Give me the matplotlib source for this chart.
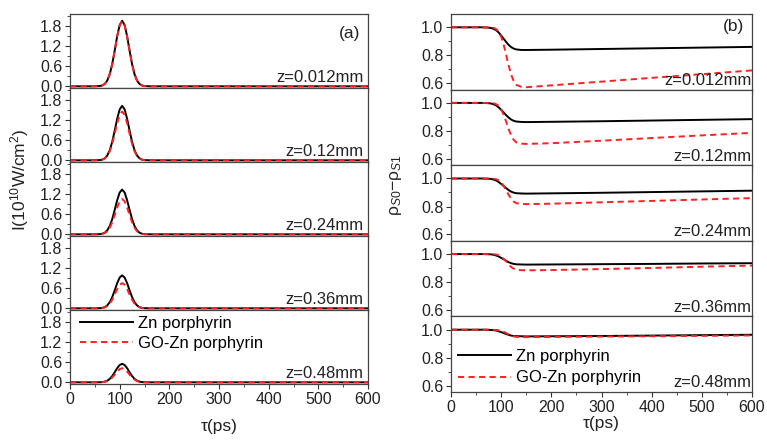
from matplotlib import pyplot as plt
from matplotlib.ticker import MultipleLocator

plt.rcParams['font.family'] = ['Liberation Sans', 'DejaVu Sans']
plt.rcParams['font.size'] = 11.5
plt.rcParams['mathtext.fontset'] = 'custom'
plt.rcParams['mathtext.rm'] = 'Liberation Sans'
plt.rcParams['mathtext.it'] = 'Liberation Sans:italic'

z_labels = ['z=0.012mm', 'z=0.12mm', 'z=0.24mm', 'z=0.36mm', 'z=0.48mm']

# (a) pulse intensity, 1e10 W/cm^2
t_pulse = [0, 40, 50, 60, 65, 70, 75, 80, 85, 90, 95, 100, 105,
           110, 115, 120, 125, 130, 135, 140, 145, 150, 160, 170, 600]

I_zn = [
    [0, 0, 0.001, 0.008, 0.025, 0.07, 0.17, 0.36, 0.66, 1.06, 1.49, 1.82, 1.95,
     1.82, 1.49, 1.06, 0.66, 0.36, 0.17, 0.07, 0.025, 0.008, 0.001, 0, 0],
    [0, 0, 0.001, 0.006, 0.021, 0.058, 0.143, 0.298, 0.549, 0.881, 1.236, 1.513, 1.62,
     1.513, 1.236, 0.881, 0.549, 0.298, 0.143, 0.058, 0.021, 0.006, 0.001, 0, 0],
    [0, 0, 0.001, 0.005, 0.017, 0.048, 0.117, 0.245, 0.451, 0.724, 1.015, 1.242, 1.33,
     1.242, 1.015, 0.724, 0.451, 0.245, 0.117, 0.048, 0.017, 0.005, 0.001, 0, 0],
    [0, 0, 0, 0.004, 0.013, 0.035, 0.086, 0.18, 0.332, 0.533, 0.748, 0.915, 0.98,
     0.915, 0.748, 0.533, 0.332, 0.18, 0.086, 0.035, 0.013, 0.004, 0, 0, 0],
    [0, 0, 0, 0.002, 0.007, 0.02, 0.048, 0.101, 0.186, 0.299, 0.42, 0.514, 0.55,
     0.514, 0.42, 0.299, 0.186, 0.101, 0.048, 0.02, 0.007, 0.002, 0, 0, 0],
]
I_go = [
    [0, 0, 0.001, 0.008, 0.025, 0.07, 0.17, 0.36, 0.66, 1.06, 1.48, 1.81, 1.94,
     1.81, 1.48, 1.06, 0.66, 0.36, 0.17, 0.07, 0.025, 0.008, 0.001, 0, 0],
    [0, 0, 0.001, 0.006, 0.019, 0.052, 0.128, 0.267, 0.492, 0.789, 1.106, 1.354, 1.45,
     1.354, 1.106, 0.789, 0.492, 0.267, 0.128, 0.052, 0.019, 0.006, 0.001, 0, 0],
    [0, 0, 0, 0.004, 0.014, 0.038, 0.092, 0.193, 0.356, 0.571, 0.801, 0.981, 1.05,
     0.981, 0.801, 0.571, 0.356, 0.193, 0.092, 0.038, 0.014, 0.004, 0, 0, 0],
    [0, 0, 0, 0.003, 0.01, 0.027, 0.066, 0.138, 0.254, 0.408, 0.572, 0.701, 0.75,
     0.701, 0.572, 0.408, 0.254, 0.138, 0.066, 0.027, 0.01, 0.003, 0, 0, 0],
    [0, 0, 0, 0.002, 0.005, 0.015, 0.037, 0.077, 0.142, 0.228, 0.32, 0.392, 0.42,
     0.392, 0.32, 0.228, 0.142, 0.077, 0.037, 0.015, 0.005, 0.002, 0, 0, 0],
]

# (b) population difference rho_S0 - rho_S1
t_rho = [0, 60, 70, 80, 85, 90, 95, 100, 105, 110, 115, 120, 125, 130,
         140, 150, 200, 300, 400, 500, 600]

rho_zn = [
    [1, 1, 0.999, 0.995, 0.989, 0.979, 0.963, 0.941, 0.918, 0.895, 0.874, 0.858, 0.848, 0.842,
     0.838, 0.838, 0.840, 0.845, 0.850, 0.855, 0.860],
    [1, 1, 0.999, 0.996, 0.990, 0.982, 0.968, 0.951, 0.931, 0.912, 0.895, 0.881, 0.872, 0.867,
     0.864, 0.863, 0.865, 0.869, 0.874, 0.879, 0.884],
    [1, 1, 0.999, 0.997, 0.992, 0.986, 0.975, 0.961, 0.946, 0.931, 0.917, 0.906, 0.899, 0.895,
     0.893, 0.892, 0.894, 0.898, 0.903, 0.908, 0.913],
    [1, 1, 1.0, 0.998, 0.995, 0.990, 0.983, 0.973, 0.963, 0.952, 0.942, 0.935, 0.930, 0.927,
     0.926, 0.925, 0.926, 0.928, 0.930, 0.933, 0.935],
    [1, 1, 1.0, 0.998, 0.997, 0.994, 0.989, 0.983, 0.976, 0.969, 0.963, 0.958, 0.955, 0.954,
     0.953, 0.952, 0.953, 0.955, 0.958, 0.961, 0.964],
]
rho_go = [
    [1, 1, 1.0, 0.998, 0.996, 0.987, 0.970, 0.932, 0.876, 0.803, 0.726, 0.662, 0.615, 0.589,
     0.575, 0.572, 0.585, 0.612, 0.639, 0.665, 0.692],
    [1, 1, 1.0, 0.999, 0.997, 0.991, 0.979, 0.953, 0.915, 0.865, 0.812, 0.768, 0.736, 0.718,
     0.709, 0.707, 0.712, 0.730, 0.749, 0.768, 0.786],
    [1, 1, 1.0, 0.999, 0.998, 0.995, 0.987, 0.971, 0.947, 0.916, 0.883, 0.855, 0.835, 0.824,
     0.818, 0.817, 0.820, 0.830, 0.840, 0.850, 0.860],
    [1, 1, 1.0, 0.999, 0.999, 0.997, 0.992, 0.981, 0.966, 0.947, 0.926, 0.908, 0.896, 0.889,
     0.885, 0.884, 0.886, 0.893, 0.901, 0.910, 0.918],
    [1, 1, 1.0, 1.0, 0.999, 0.998, 0.996, 0.992, 0.985, 0.976, 0.966, 0.958, 0.952, 0.949,
     0.947, 0.947, 0.948, 0.951, 0.953, 0.956, 0.959],
]

W, H = 767, 440
fig = plt.figure(figsize=(W / 100, H / 100), dpi=100)

txt = '#222222'
fs_tick = 11.5
fs_text = 12
dash = (0, (3.2, 2.2))


def style(ax, last):
    ax.set_xlim(0, 600)
    ax.xaxis.set_major_locator(MultipleLocator(100))
    ax.xaxis.set_minor_locator(MultipleLocator(50))
    ax.tick_params(which='both', direction='out', colors='#333333', labelcolor=txt,
                   labelsize=fs_tick, top=False, right=False, pad=2)
    ax.tick_params(which='major', length=3.5)
    ax.tick_params(which='minor', length=2)
    if not last:
        ax.tick_params(axis='x', labelbottom=False)
    for s in ax.spines.values():
        s.set_color('#444444')
        s.set_linewidth(0.9)


# left panels
top, bot = 14, 384
h = (bot - top) / 5
left_axes = []
for i in range(5):
    y0 = top + (i + 1) * h
    ax = fig.add_axes([70 / W, 1 - y0 / H, 298 / W, h / H])
    ax.plot(t_pulse, I_zn[i], color='black', lw=1.4, label='Zn porphyrin')
    ax.plot(t_pulse, I_go[i], color='#ff2020', lw=1.4, ls=dash, label='GO-Zn porphyrin')
    ax.set_ylim(-0.05, 2.15)
    ax.yaxis.set_major_locator(MultipleLocator(0.6))
    ax.yaxis.set_minor_locator(MultipleLocator(0.3))
    ax.yaxis.set_major_formatter(plt.FormatStrFormatter('%.1f'))
    style(ax, i == 4)
    ax.text(0.985, 0.04, z_labels[i], transform=ax.transAxes, ha='right', va='bottom',
            fontsize=fs_text, color=txt)
    left_axes.append(ax)

left_axes[0].text(0.975, 0.74, '(a)', transform=left_axes[0].transAxes, ha='right',
                  va='center', fontsize=12.5, color=txt)
left_axes[4].legend(loc='upper left', bbox_to_anchor=(0.0, 1.06), frameon=False,
                    handlelength=3.2, handletextpad=0.3, labelspacing=0.3,
                    borderaxespad=0.2, fontsize=fs_text)
left_axes[4].set_xlabel('τ(ps)', fontsize=12.5, color=txt, labelpad=9)
fig.text(20 / W, 1 - 180 / H, r'I(10$^{10}$W/cm$^{2}$)', rotation=90, ha='center',
         va='center', fontsize=12.5, color=txt)

# right panels
top, bot = 14, 392
h = (bot - top) / 5
right_axes = []
for i in range(5):
    y0 = top + (i + 1) * h
    ax = fig.add_axes([451 / W, 1 - y0 / H, 301 / W, h / H])
    ax.plot(t_rho, rho_zn[i], color='black', lw=1.4, label='Zn porphyrin')
    ax.plot(t_rho, rho_go[i], color='#ff2020', lw=1.4, ls=dash, label='GO-Zn porphyrin')
    ax.set_ylim(0.555, 1.095)
    ax.yaxis.set_major_locator(MultipleLocator(0.2))
    ax.yaxis.set_minor_locator(MultipleLocator(0.1))
    ax.yaxis.set_major_formatter(plt.FormatStrFormatter('%.1f'))
    style(ax, i == 4)
    ax.text(0.998, 0.02, z_labels[i], transform=ax.transAxes, ha='right', va='bottom',
            fontsize=fs_text, color=txt)
    right_axes.append(ax)

right_axes[0].text(0.975, 0.83, '(b)', transform=right_axes[0].transAxes, ha='right',
                   va='center', fontsize=12.5, color=txt)
right_axes[4].legend(loc='upper left', bbox_to_anchor=(0.0, 0.66), frameon=False,
                     handlelength=3.2, handletextpad=0.3, labelspacing=0.4,
                     borderaxespad=0.0, fontsize=fs_text)
right_axes[4].set_xlabel('τ(ps)', fontsize=12.5, color=txt, labelpad=1)
fig.text(396 / W, 1 - 185 / H, r'ρ$_{S0}$−ρ$_{S1}$', rotation=90, ha='center',
         va='center', fontsize=12.5, color=txt)

plt.savefig('out.png', dpi=100)
